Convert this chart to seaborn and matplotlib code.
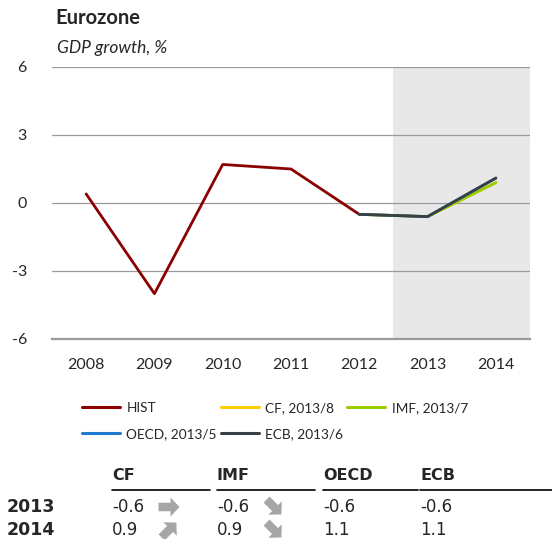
import numpy as np
import pandas as pd
import matplotlib
matplotlib.use("Agg")
import matplotlib.pyplot as plt
import seaborn as sns
from matplotlib.lines import Line2D
from matplotlib.patches import FancyArrow

# data
years = [2008, 2009, 2010, 2011, 2012, 2013, 2014]
hist = [0.4, -4.0, 1.7, 1.5, -0.5]
fc_years = [2012, 2013, 2014]
cf = [-0.5, -0.6, 0.9]
imf = [-0.5, -0.6, 0.9]
oecd = [-0.5, -0.6, 1.1]
ecb = [-0.5, -0.6, 1.1]
series_names = ["HIST", "CF, 2013/8", "IMF, 2013/7", "OECD, 2013/5", "ECB, 2013/6"]
colors = ["#8B0000", "#FFCC00", "#99CC00", "#1F78D1", "#3A3F44"]

# table below the chart (arrow: change vs previous release, 0 flat, 1 up, -1 down)
tab_sources = ["CF", "IMF", "OECD", "ECB"]
tab_years = ["2013", "2014"]
tab_vals = {"CF": [-0.6, 0.9], "IMF": [-0.6, 0.9], "OECD": [-0.6, 1.1], "ECB": [-0.6, 1.1]}
tab_arrows = {"CF": [0, 1], "IMF": [-1, -1], "OECD": [None, None], "ECB": [None, None]}

rows = []
for y, v in zip(years, hist):
    rows.append((series_names[0], y, v))
for name, vals in zip(series_names[1:], [cf, imf, oecd, ecb]):
    for y, v in zip(fc_years, vals):
        rows.append((name, y, v))
df = pd.DataFrame(rows, columns=["series", "year", "value"])

sns.set_style("white")
plt.rcParams["font.family"] = ["Lato", "DejaVu Sans"]

fig = plt.figure(figsize=(5.52, 5.39), dpi=100)
ax = fig.add_axes([52 / 552, 1 - 339 / 539, 478 / 552, 272 / 539])

ax.axvspan(2012.5, 2014.5, color="#E8E8E8", zorder=0, lw=0)
for g in [6, 3, 0, -3]:
    ax.axhline(g, color="#9A9A9A", lw=0.9, zorder=1)

sns.lineplot(data=df, x="year", y="value", hue="series", hue_order=series_names,
             palette=dict(zip(series_names, colors)), lw=2.0, ax=ax, legend=False,
             zorder=3)

ax.set_xlim(2007.5, 2014.5)
ax.set_ylim(-6, 6)
ax.set_yticks([-6, -3, 0, 3, 6])
ax.set_yticklabels(["-6", "-3", "0", "3", "6"])
ax.set_xticks(years)
ax.set_xticklabels([str(y) for y in years])
ax.set_xticks([y - 0.5 for y in years] + [2014.5], minor=True)
ax.tick_params(axis="x", which="major", length=0, pad=14, labelsize=11.5)
ax.tick_params(axis="x", which="minor", length=5, width=1.3, color="#9A9A9A", direction="out")
ax.tick_params(axis="y", length=0, pad=18, labelsize=11.5)
ax.set_xlabel("")
ax.set_ylabel("")
for s in ["top", "left", "right"]:
    ax.spines[s].set_visible(False)
ax.spines["bottom"].set_color("#9A9A9A")
ax.spines["bottom"].set_linewidth(1.6)

fig.text(55 / 552, 1 - 18 / 539, "Eurozone", fontsize=14.5, fontweight="bold", va="center")
fig.text(57 / 552, 1 - 48 / 539, "GDP growth, %", fontsize=12.5, style="italic", va="center")

# legend, row-major order through column-major filling
handles = [Line2D([], [], color=c, lw=2.2) for c in colors]
order = [0, 3, 1, 4, 2]
fig.legend([handles[i] for i in order], [series_names[i] for i in order], ncol=3,
           loc="upper left", bbox_to_anchor=(70 / 552, 1 - 390 / 539), frameon=False,
           fontsize=9.8, handlelength=2.8, handletextpad=0.45, columnspacing=0.3,
           labelspacing=1.0)

# table
col_x = [112, 217, 323, 420]
col_end = [210, 315, 418, 552]
row_y = [507, 530]
arrow_dirs = {0: (1.0, 0.0), 1: (0.7071, 0.7071), -1: (0.7071, -0.7071)}
for i, src in enumerate(tab_sources):
    fig.text(col_x[i] / 552, 1 - 476 / 539, src, fontsize=11.5, fontweight="bold",
             family="DejaVu Sans", va="center")
    fig.add_artist(Line2D([col_x[i] / 552, col_end[i] / 552], [1 - 490 / 539] * 2,
                          color="black", lw=1.2))
    for j, yr in enumerate(tab_years):
        fig.text(col_x[i] / 552, 1 - row_y[j] / 539, f"{tab_vals[src][j]:.1f}", fontsize=12,
                 family="DejaVu Sans", va="center")
        a = tab_arrows[src][j]
        if a is not None:
            dx, dy = arrow_dirs[a]
            L = 0.21
            cx, cy = (col_x[i] + 57) / 100, (539 - row_y[j]) / 100
            fig.add_artist(FancyArrow(cx - dx * L / 2, cy - dy * L / 2, dx * L, dy * L,
                                      width=0.085, head_width=0.19, head_length=0.09,
                                      length_includes_head=True, color="#A6A6A6", lw=0,
                                      transform=fig.dpi_scale_trans))
for j, yr in enumerate(tab_years):
    fig.text(7 / 552, 1 - row_y[j] / 539, yr, fontsize=12.5, fontweight="bold",
             family="DejaVu Sans", va="center")

fig.savefig("out.png", dpi=100)
